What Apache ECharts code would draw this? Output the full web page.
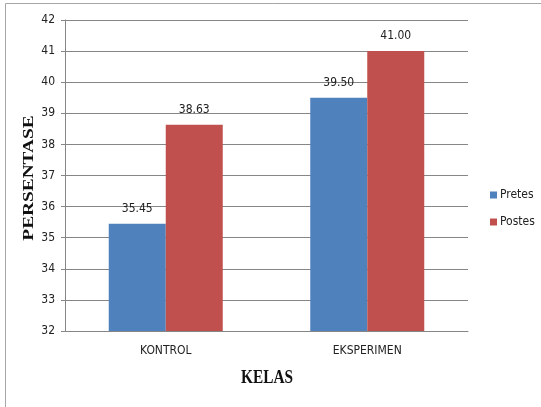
<!DOCTYPE html>
<html>
<head>
<meta charset="utf-8">
<script src="https://cdn.jsdelivr.net/npm/echarts@6/dist/echarts.min.js"></script>
<style>
  html, body { margin: 0; padding: 0; background: #fff; }
  #chart { width: 541px; height: 407px; }
</style>
</head>
<body>
<div id="chart"></div>
<script>
// Class groups and the two test series (percent)
const categories = ['KONTROL', 'EKSPERIMEN'];
const pretes = [35.45, 39.50];
const postes = [38.63, 41.00];
const seriesNames = ['Pretes', 'Postes'];

const labelFont = '"DejaVu Sans Condensed", "Liberation Sans", sans-serif';
const titleFont = '"Liberation Serif", serif';

const chart = echarts.init(document.getElementById('chart'));

const valueLabel = {
  show: true,
  position: 'top',
  distance: 9,
  color: '#222',
  fontFamily: labelFont,
  fontSize: 12,
  formatter: p => p.value.toFixed(2)
};

chart.setOption({
  animation: false,
  backgroundColor: '#fff',
  grid: { left: 65, right: 73, top: 20, bottom: 76 },
  legend: {
    orient: 'vertical',
    left: 485,
    top: 184,
    itemWidth: 7,
    itemHeight: 7,
    itemGap: 15,
    icon: 'rect',
    textStyle: { fontFamily: labelFont, fontSize: 12, color: '#222', padding: [0, 0, 0, -2] },
    data: seriesNames
  },
  xAxis: {
    type: 'category',
    data: categories,
    axisLine: { lineStyle: { color: '#868686' } },
    axisTick: { show: false },
    axisLabel: { color: '#222', fontFamily: labelFont, fontSize: 12, margin: 14 }
  },
  yAxis: {
    type: 'value',
    min: 32,
    max: 42,
    interval: 1,
    axisLine: { show: true, lineStyle: { color: '#868686' } },
    axisTick: { show: true, length: 4, lineStyle: { color: '#868686' } },
    axisLabel: { color: '#222', fontFamily: labelFont, fontSize: 12, margin: 10 },
    splitLine: { lineStyle: { color: '#868686' } }
  },
  series: [
    {
      name: seriesNames[0],
      type: 'bar',
      data: pretes,
      barWidth: 57,
      barGap: '0%',
      itemStyle: { color: '#4F81BD' },
      label: valueLabel
    },
    {
      name: seriesNames[1],
      type: 'bar',
      data: postes,
      barWidth: 57,
      barGap: '0%',
      itemStyle: { color: '#C0504D' },
      label: valueLabel
    }
  ],
  graphic: [
    {
      type: 'rect',
      shape: { x: 5.5, y: 3.5, width: 700, height: 600 },
      style: { fill: 'none', stroke: '#a6a6a6', lineWidth: 1 },
      silent: true
    },
    {
      type: 'text',
      x: 29,
      y: 178,
      rotation: Math.PI / 2,
      scaleX: 1.38,
      scaleY: 1,
      style: {
        text: 'PERSENTASE',
        fontFamily: titleFont,
        fontWeight: 'bold',
        fontSize: 14,
        fill: '#111',
        align: 'center',
        verticalAlign: 'middle'
      }
    },
    {
      type: 'text',
      x: 267,
      y: 378,
      scaleX: 0.85,
      scaleY: 1,
      style: {
        text: 'KELAS',
        fontFamily: titleFont,
        fontWeight: 'bold',
        fontSize: 18,
        fill: '#111',
        align: 'center',
        verticalAlign: 'middle'
      }
    }
  ]
});
</script>
</body>
</html>
